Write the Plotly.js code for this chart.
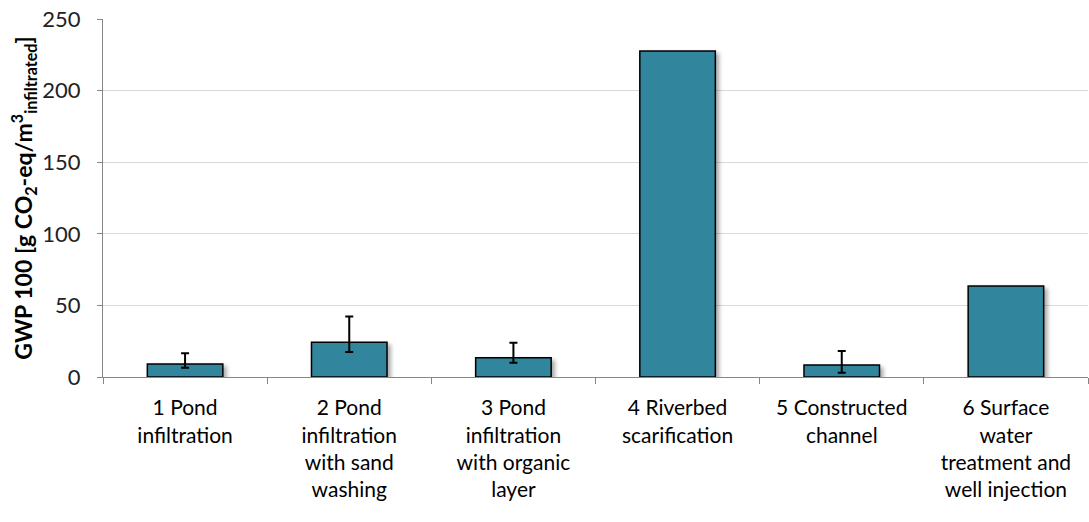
<!DOCTYPE html>
<html>
<head>
<meta charset="utf-8">
<script src="https://cdn.plot.ly/plotly-3.0.1.min.js"></script>
<style>
  body { margin: 0; background: #fff; }
  #plot { width: 1089px; height: 522px; }
  #plot .bars .point path { filter: drop-shadow(3px 3px 2px rgba(0,0,0,0.35)); }
</style>
</head>
<body>
<div id="plot"></div>
<script>
// categories and values
var categories = [
    '1 Pond<br>infiltration',
    '2 Pond<br>infiltration<br>with sand<br>washing',
    '3 Pond<br>infiltration<br>with organic<br>layer',
    '4 Riverbed<br>scarification',
    '5 Constructed<br>channel',
    '6 Surface<br>water<br>treatment and<br>well injection'
];
var gwpValues = [9, 24.2, 13.5, 227.6, 8.4, 63.5];
// error bars only on 1, 2, 3 and 5 (null = no bar)
var errPlus = [7.5, 18, 10.5, null, 9.8, null];
var errMinus = [2.5, 6.7, 3.5, null, 5.4, null];
var yTicks = [0, 50, 100, 150, 200, 250];

// split into bars with and without error bars, overlaid on the same slots
var withErr = { x: [], y: [], plus: [], minus: [] };
var noErr = { x: [], y: [] };
categories.forEach(function(c, i) {
    if (errPlus[i] !== null) {
        withErr.x.push(c); withErr.y.push(gwpValues[i]);
        withErr.plus.push(errPlus[i]); withErr.minus.push(errMinus[i]);
    } else {
        noErr.x.push(c); noErr.y.push(gwpValues[i]);
    }
});

var barStyle = {
    color: '#31859c',
    line: { color: '#000000', width: 1.5 }
};

var trace1 = {
    x: withErr.x,
    y: withErr.y,
    type: 'bar',
    marker: barStyle,
    error_y: {
        type: 'data',
        symmetric: false,
        array: withErr.plus,
        arrayminus: withErr.minus,
        color: '#000000',
        thickness: 2,
        width: 4
    }
};

var trace2 = {
    x: noErr.x,
    y: noErr.y,
    type: 'bar',
    marker: barStyle
};

var layout = {
    font: { family: 'Lato, "Open Sans", sans-serif', color: '#000' },
    showlegend: false,
    barmode: 'overlay',
    bargap: 0.54,
    margin: { l: 103, r: 1, t: 19, b: 145 },
    xaxis: {
        type: 'category',
        categoryorder: 'array',
        categoryarray: categories,
        tickson: 'boundaries',
        ticks: 'outside',
        ticklen: 6,
        tickcolor: '#868686',
        showline: true,
        linecolor: '#868686',
        linewidth: 1,
        ticklabelstandoff: 12,
        tickfont: { size: 21 },
        automargin: false
    },
    yaxis: {
        title: {
            text: '<b>GWP 100 [g CO<sub>2</sub>-eq/m<sup>3</sup><sub>infiltrated</sub>]</b>',
            font: { size: 23 }
        },
        range: [0, 250],
        tickvals: yTicks,
        ticks: 'outside',
        ticklen: 5,
        tickcolor: '#868686',
        showline: true,
        linecolor: '#868686',
        gridcolor: '#d9d9d9',
        zeroline: false,
        ticklabelstandoff: 12,
        tickfont: { size: 22, color: '#222' },
        automargin: false
    },
    paper_bgcolor: '#fff',
    plot_bgcolor: '#fff'
};

Plotly.newPlot('plot', [trace1, trace2], layout, { displayModeBar: false, staticPlot: true });
</script>
</body>
</html>
